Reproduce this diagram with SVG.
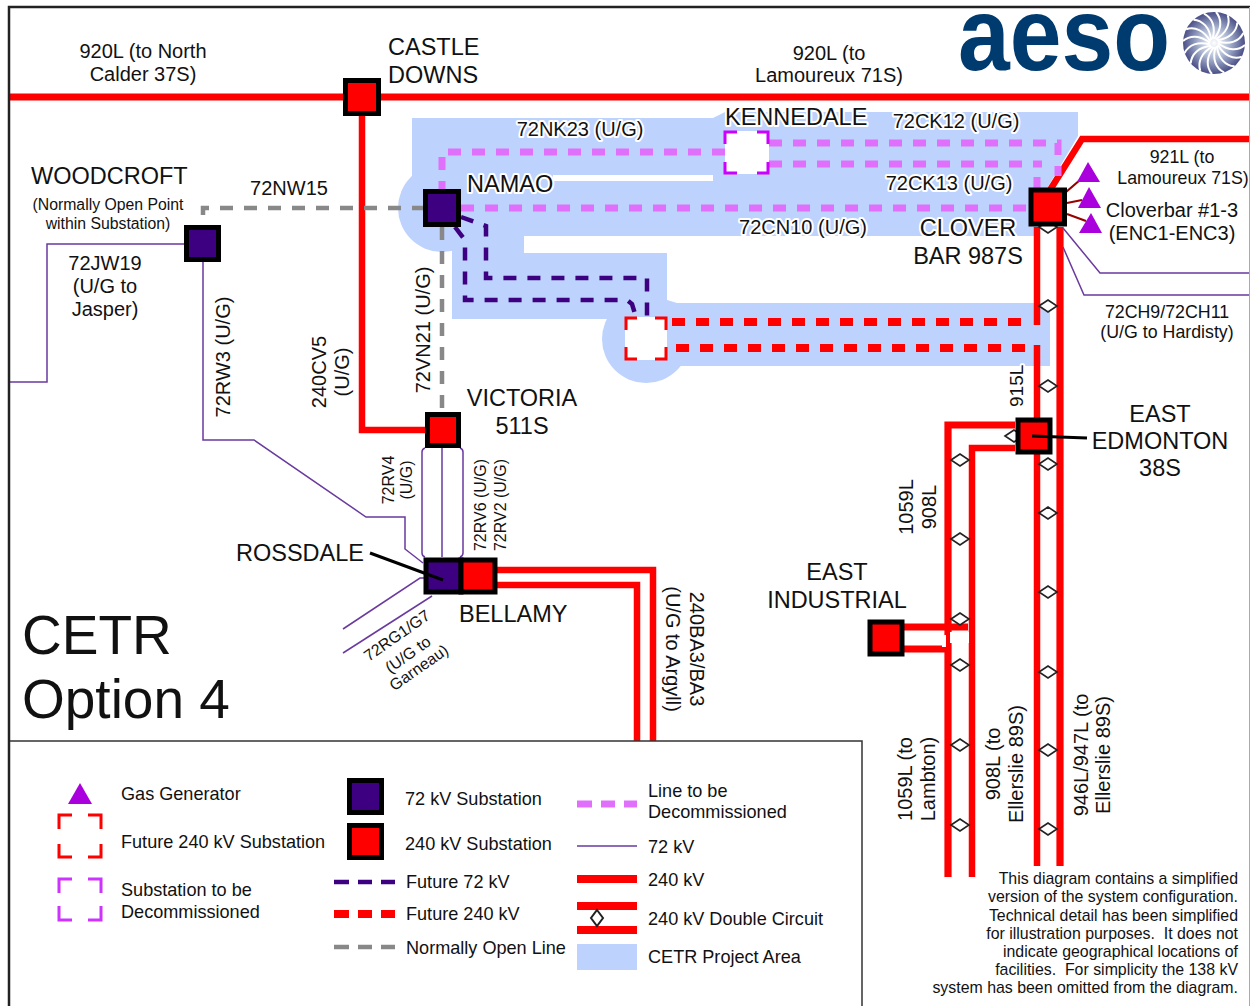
<svg xmlns="http://www.w3.org/2000/svg" width="1250" height="1006" viewBox="0 0 1250 1006">
<style>
text{font-family:"Liberation Sans",Arial,sans-serif;fill:#111}
.l{font-size:23.5px}.m{font-size:20px}.g{font-size:18.100px}.s{font-size:17.800px}.t{font-size:16px}.n{font-size:15.900px;white-space:pre}
.c{text-anchor:middle}.e{text-anchor:end}
.h{paint-order:stroke;stroke:#fff;stroke-width:4px;stroke-linejoin:round}
.r{fill:none;stroke:#f00;stroke-width:6.500}
.w{stroke-width:7.200}
.p{fill:none;stroke:#6a3a9e;stroke-width:1.500}
.dp{fill:none;stroke:#e070fb;stroke-width:7;stroke-dasharray:13 11}
.dr{fill:none;stroke:#f00;stroke-width:8;stroke-dasharray:13 11}
.dv{fill:none;stroke:#3c0080;stroke-width:4.500;stroke-dasharray:13 11}
.dg{fill:none;stroke:#888;stroke-width:4.500;stroke-dasharray:13 11}
.k{stroke-dasharray:15 9 14 9 14}
.b240{fill:#f00;stroke:#000;stroke-width:5}
.b72{fill:#3c0080;stroke:#000;stroke-width:5}
.dia{fill:#fff;stroke:#222;stroke-width:1.600}
.gen{fill:#aa00dd}
.lead{fill:none;stroke:#000;stroke-width:3}
.tap{fill:none;stroke:#900;stroke-width:2.200}
.area{fill:#bdd2fd}
</style>
<defs>
<radialGradient id="sw" cx="50%" cy="50%" r="50%"><stop offset="0" stop-color="#fff"/><stop offset=".5" stop-color="#a8b4d0"/><stop offset="1" stop-color="#4a4f86"/></radialGradient>
<path id="d" class="dia" d="M-9,0 L0,-6 L9,0 L0,6 Z"/>
<path id="bl" d="M0,-4 C8,-14 8,-24 2,-31" fill="none" stroke="#fff" stroke-width="2"/>
</defs>
<rect width="1250" height="1006" fill="#fff"/>

<g id="area">
<path class="area" d="M412,118 H713 L725,112 H1078 V136 L1040,200 V236 H524 V253 H667 V300 L677,303 H1050 V366 H646 V319 H452 V208 H412 Z"/>
<circle class="area" cx="442" cy="208" r="44"/>
<circle class="area" cx="646" cy="339" r="44"/>
<rect x="553" y="175" width="160" height="6" fill="#fff"/>
</g>

<g id="connectors">
<path class="r w" d="M10,97 H1250"/>
<path class="r" d="M362,97 V430 H442"/>
<path class="r" d="M1050,190 L1082,139 H1250"/>
<path class="r" d="M495,570 H653 V741"/>
<path class="r" d="M495,585 H637 V741"/>
<path class="r" d="M1037,227 V325"/>
<path class="r" d="M1037,345 V866"/>
<path class="r w" d="M1060,227 V866"/>
<path class="r w" d="M1015,425 H948 V877"/>
<path class="r" d="M1015,448 H972 V877"/>
<path class="r w" d="M904,627 H968"/>
<path class="r w" d="M904,649 H945"/>
<rect x="942" y="635" width="4" height="12" fill="#fff"/>
<rect x="950" y="632" width="19" height="11" fill="#fff"/>
<path class="p" d="M185,244 H47 V382 H10"/>
<path class="p" d="M203,261 V440 H254 L366,517 H405 V549 L423,563"/>
<path class="p" d="M425,448 Q422,449 422,452 V553 Q422,556 425,557"/>
<path class="p" d="M442,447 V557"/>
<path class="p" d="M460,448 Q463,449 463,452 V553 Q463,556 460,557"/>
<path class="p" d="M343,629 L420,578 H425"/>
<path class="p" d="M343,653 L432,596"/>
<path class="p" d="M1063,228 L1100,273 H1250"/>
<path class="p" d="M1063,247 L1084,295 H1250"/>
<path class="dg" d="M425,208 H203 V226"/>
<path class="dg" d="M442,227 V412"/>
<path class="dp" d="M725,152 H442 V190"/>
<path class="dp" d="M769,143 H1058 V176"/>
<path class="dp" d="M769,164 H1042"/>
<path class="dp" d="M1037,177 V188" style="stroke-dasharray:none"/>
<path class="dp" d="M461,208 H1030"/>
<path class="dv" d="M461,217 L486,226 V278 H647 V317"/>
<path class="dv" d="M455,227 L465,240 V300 H627 L632,304 L636,317"/>
<path class="dr" d="M672,322 H1023"/>
<path class="dr" d="M676,348 H1028"/>
<path class="tap" d="M1066,192 L1080,180 M1067,203 L1082,200 M1067,214 L1086,221"/>
<use href="#d" x="1048" y="227"/><use href="#d" x="1048" y="306"/><use href="#d" x="1048" y="386"/>
<use href="#d" x="1014" y="436"/>
<use href="#d" x="1048" y="464"/><use href="#d" x="1048" y="513"/><use href="#d" x="1048" y="592"/><use href="#d" x="1048" y="672"/><use href="#d" x="1048" y="750"/><use href="#d" x="1048" y="829"/>
<use href="#d" x="960" y="460"/><use href="#d" x="960" y="539"/><use href="#d" x="960" y="619"/><use href="#d" x="960" y="665"/><use href="#d" x="960" y="745"/><use href="#d" x="960" y="825"/>
</g>

<g id="castle-downs"><rect class="b240" x="345.500" y="80.500" width="33" height="33"/>
<text class="l" x="388" y="55">CASTLE</text><text class="l" x="388" y="83">DOWNS</text></g>

<g id="woodcroft"><rect class="b72" x="186.500" y="227.500" width="32" height="32"/>
<text class="l" x="31" y="184">WOODCROFT</text>
<text class="c" x="108" y="210" style="font-size:15.800px">(Normally Open Point</text><text class="c" x="108" y="229" style="font-size:15.800px">within Substation)</text></g>

<g id="namao"><rect class="b72" x="425.500" y="191.500" width="33" height="33"/>
<text class="l h" x="467" y="192">NAMAO</text></g>

<g id="kennedale"><rect x="725" y="131" width="44" height="43" fill="#fff"/>
<path d="M725,144 V132 H737 M757,132 H768 V144 M768,162 V173 H757 M737,173 H725 V162" fill="none" stroke="#c0f" stroke-width="3"/>
<text class="l h" x="725" y="125">KENNEDALE</text></g>

<g id="clover-bar"><rect class="b240" x="1031" y="190" width="33.500" height="34"/>
<text class="l c h" x="968" y="236">CLOVER</text><text class="l c" x="968" y="264">BAR 987S</text></g>

<g id="future-240"><rect x="625" y="317" width="42" height="43" fill="#fff"/>
<path d="M626,330 V318 H637 M655,318 H666 V330 M666,347 V359 H655 M637,359 H626 V347" fill="none" stroke="#f00" stroke-width="3"/></g>

<g id="victoria"><rect class="b240" x="427.500" y="414.500" width="31" height="31"/>
<text class="l c" x="522" y="406">VICTORIA</text><text class="l c" x="522" y="434">511S</text></g>

<g id="rossdale"><rect class="b72" x="426" y="560" width="35" height="32"/>
<text class="l" x="236" y="561">ROSSDALE</text></g>
<g id="bellamy"><rect class="b240" x="461" y="560" width="34" height="32"/>
<text class="l" x="459" y="622">BELLAMY</text></g>

<g id="east-edmonton"><rect class="b240" x="1018" y="420" width="32" height="32"/>
<text class="l c" x="1160" y="422">EAST</text><text class="l c" x="1160" y="449">EDMONTON</text><text class="l c" x="1160" y="476">38S</text></g>

<g id="east-industrial"><rect class="b240" x="870" y="622" width="32" height="32"/>
<text class="l c" x="837" y="580">EAST</text><text class="l c" x="837" y="608">INDUSTRIAL</text></g>

<path class="lead" d="M370,553 L443,580"/>
<path class="lead" d="M1032,436 L1087,438"/>

<g id="generators"><path class="gen" d="M1088,162 L1077,182 H1100 Z"/><path class="gen" d="M1089,187 L1078,208 H1101 Z"/><path class="gen" d="M1091,213 L1079,233 H1102 Z"/></g>

<g id="labels">
<text class="m c" x="143" y="58">920L (to North</text><text class="m c" x="143" y="81">Calder 37S)</text>
<text class="m c" x="829" y="60">920L (to</text><text class="m c" x="829" y="82">Lamoureux 71S)</text>
<text class="m c h" x="580" y="136">72NK23 (U/G)</text>
<text class="m c h" x="956" y="128">72CK12 (U/G)</text>
<text class="m c h" x="949" y="190">72CK13 (U/G)</text>
<text class="m c h" x="803" y="234">72CN10 (U/G)</text>
<text class="m c h" x="289" y="195">72NW15</text>
<text class="m c" x="105" y="270">72JW19</text><text class="m c" x="105" y="293">(U/G to</text><text class="m c" x="105" y="316">Jasper)</text>
<text class="s c" x="1182" y="163">921L (to</text><text class="s c" x="1183" y="184">Lamoureux 71S)</text>
<text class="m c" x="1172" y="217">Cloverbar #1-3</text><text class="m c" x="1172" y="240">(ENC1-ENC3)</text>
<text class="s c" x="1167" y="318">72CH9/72CH11</text><text class="s c" x="1167" y="338">(U/G to Hardisty)</text>
<text class="m c" transform="translate(230,357) rotate(-90)">72RW3 (U/G)</text>
<text class="m c" transform="translate(326,372) rotate(-90)">240CV5</text>
<text class="m c" transform="translate(349,372) rotate(-90)">(U/G)</text>
<text class="m c h" transform="translate(430,330) rotate(-90)">72VN21 (U/G)</text>
<text class="t c" transform="translate(394,480) rotate(-90)">72RV4</text>
<text class="t c" transform="translate(412,480) rotate(-90)">(U/G)</text>
<text class="t c" transform="translate(486,505) rotate(-90)">72RV6 (U/G)</text>
<text class="t c" transform="translate(506,505) rotate(-90)">72RV2 (U/G)</text>
<text class="t c" transform="translate(400,640) rotate(-35)">72RG1/G7</text>
<text class="t c" transform="translate(411,659) rotate(-35)">(U/G to</text>
<text class="t c" transform="translate(422,672) rotate(-35)">Garneau)</text>
<text class="m c" transform="translate(690,649) rotate(90)">240BA3/BA3</text>
<text class="m c" transform="translate(666,649) rotate(90)">(U/G to Argyll)</text>
<text class="h" style="font-size:19px" transform="translate(1023,407) rotate(-90)">915L</text>
<text class="m c" transform="translate(913,507) rotate(-90)">1059L</text>
<text class="m c" transform="translate(936,507) rotate(-90)">908L</text>
<text class="m c" transform="translate(912,779) rotate(-90)">1059L (to</text>
<text class="m c" transform="translate(935,779) rotate(-90)">Lambton)</text>
<text class="m c" transform="translate(1000,764) rotate(-90)">908L (to</text>
<text class="m c" transform="translate(1023,764) rotate(-90)">Ellerslie 89S)</text>
<text class="m c" transform="translate(1088,755) rotate(-90)">946L/947L (to</text>
<text class="m c" transform="translate(1110,755) rotate(-90)">Ellerslie 89S)</text>
<text x="22" y="654" style="font-size:55px">CETR</text>
<text x="22" y="718" style="font-size:55px">Option 4</text>
</g>

<g id="logo">
<text x="958" y="70" textLength="212" lengthAdjust="spacingAndGlyphs" style="font-size:104px;font-weight:bold;fill:#003b6f">aeso</text>
<circle cx="1214" cy="43" r="31" fill="url(#sw)"/>
<use href="#bl" transform="translate(1214,43)"/><use href="#bl" transform="translate(1214,43) rotate(22.500)"/><use href="#bl" transform="translate(1214,43) rotate(45)"/><use href="#bl" transform="translate(1214,43) rotate(67.500)"/><use href="#bl" transform="translate(1214,43) rotate(90)"/><use href="#bl" transform="translate(1214,43) rotate(112.500)"/><use href="#bl" transform="translate(1214,43) rotate(135)"/><use href="#bl" transform="translate(1214,43) rotate(157.500)"/><use href="#bl" transform="translate(1214,43) rotate(180)"/><use href="#bl" transform="translate(1214,43) rotate(202.500)"/><use href="#bl" transform="translate(1214,43) rotate(225)"/><use href="#bl" transform="translate(1214,43) rotate(247.500)"/><use href="#bl" transform="translate(1214,43) rotate(270)"/><use href="#bl" transform="translate(1214,43) rotate(292.500)"/><use href="#bl" transform="translate(1214,43) rotate(315)"/><use href="#bl" transform="translate(1214,43) rotate(337.500)"/>
</g>

<g id="frame">
<path d="M9,1006 V7 H1250" fill="none" stroke="#222" stroke-width="2.500"/>
<path d="M1249.500,7 V1006" fill="none" stroke="#aaa" stroke-width="1"/>
</g>

<g id="legend">
<path d="M10,741 H862 V1006" fill="#fff" stroke="#333" stroke-width="1.500"/>
<path class="gen" d="M80,783 L68,804 H92 Z"/>
<path d="M59,829 V815 H72 M88,815 H101 V829 M101,844 V857 H88 M72,857 H59 V844" fill="none" stroke="#f00" stroke-width="3"/>
<path d="M59,893 V879 H72 M88,879 H101 V893 M101,906 V920 H88 M72,920 H59 V906" fill="none" stroke="#c3f" stroke-width="3"/>
<rect class="b72" x="349.500" y="780.500" width="32" height="32"/>
<rect class="b240" x="349.500" y="825.500" width="32" height="32"/>
<path class="dv k" d="M334,882 H396"/>
<path class="dr k" d="M334,914 H396"/>
<path class="dg k" d="M334,947 H396"/>
<path class="dp k" d="M577,804 H637"/>
<path class="p" d="M577,846 H637"/>
<path d="M577,879 H637 M577,906 H637 M577,930 H637" fill="none" stroke="#f00" stroke-width="8"/>
<path class="dia" d="M597,910 L603,918 L597,926 L591,918 Z" style="stroke-width:2"/>
<rect class="area" x="577" y="944" width="60" height="26"/>
<text class="g" x="121" y="800">Gas Generator</text>
<text class="g" x="121" y="848">Future 240 kV Substation</text>
<text class="g" x="121" y="896">Substation to be</text>
<text class="g" x="121" y="918">Decommissioned</text>
<text class="g" x="405" y="805">72 kV Substation</text>
<text class="g" x="405" y="850">240 kV Substation</text>
<text class="g" x="406" y="888">Future 72 kV</text>
<text class="g" x="406" y="920">Future 240 kV</text>
<text class="g" x="406" y="954">Normally Open Line</text>
<text class="g" x="648" y="797">Line to be</text>
<text class="g" x="648" y="818">Decommissioned</text>
<text class="g" x="648" y="853">72 kV</text>
<text class="g" x="648" y="886">240 kV</text>
<text class="g" x="648" y="925">240 kV Double Circuit</text>
<text class="g" x="648" y="963">CETR Project Area</text>
</g>

<g id="note">
<text class="n e" x="1238" y="884">This diagram contains a simplified</text>
<text class="n e" x="1238" y="902">version of the system configuration.</text>
<text class="n e" x="1238" y="921">Technical detail has been simplified</text>
<text class="n e" x="1238" y="939">for illustration purposes.  It does not</text>
<text class="n e" x="1238" y="957">indicate geographical locations of</text>
<text class="n e" x="1238" y="975">facilities.  For simplicity the 138 kV</text>
<text class="n e" x="1238" y="993">system has been omitted from the diagram.</text>
</g>
</svg>
